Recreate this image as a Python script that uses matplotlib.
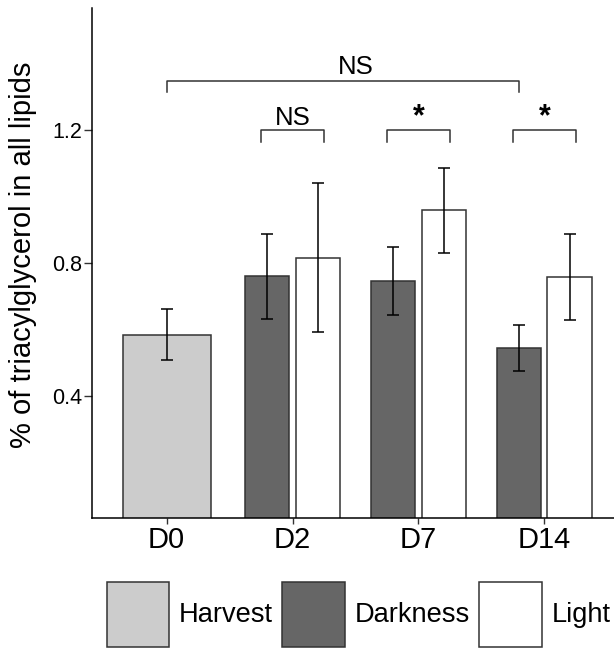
import matplotlib.pyplot as plt
from matplotlib.patches import Patch

plt.rcParams["font.family"] = ["Liberation Sans", "DejaVu Sans"]

# Data
days = ["D0", "D2", "D7", "D14"]
harvest_mean = [0.583]
harvest_err = [0.077]
dark_mean = [0.759, 0.745, 0.543]
dark_err = [0.127, 0.102, 0.070]
light_mean = [0.815, 0.958, 0.757]
light_err = [0.224, 0.128, 0.130]

# significance brackets: (x1, x2, y, label)
brackets = [
    (1.0, 3.8, 1.347, "NS"),
    (1.75, 2.25, 1.198, "NS"),
    (2.75, 3.25, 1.198, "*"),
    (3.75, 4.25, 1.198, "*"),
]

harvest_col = "#cccccc"
dark_col = "#666666"
light_col = "#ffffff"
edge = "#333333"

fig = plt.figure(figsize=(6.14, 6.48), dpi=100)
ax = fig.add_axes([92 / 614, 1 - 518 / 648, (619 - 92) / 614, (518 - 8) / 648])

x = [1, 2, 3, 4]
w = 0.35
ax.bar(x[0], harvest_mean[0], width=0.7, color=harvest_col, edgecolor=edge, linewidth=1.1, zorder=2)
ax.bar([xi - 0.2 for xi in x[1:]], dark_mean, width=w, color=dark_col, edgecolor=edge, linewidth=1.1, zorder=2)
ax.bar([xi + 0.2 for xi in x[1:]], light_mean, width=w, color=light_col, edgecolor=edge, linewidth=1.1, zorder=2)

eb = dict(fmt="none", ecolor="black", elinewidth=1.1, capsize=4.5, capthick=1.1, zorder=3)
ax.errorbar(x[0], harvest_mean, yerr=harvest_err, **eb)
ax.errorbar([xi - 0.2 for xi in x[1:]], dark_mean, yerr=dark_err, **eb)
ax.errorbar([xi + 0.2 for xi in x[1:]], light_mean, yerr=light_err, **eb)

# brackets
tip = 0.034
for x1, x2, y, lab in brackets:
    ax.plot([x1, x1, x2, x2], [y - tip, y, y, y - tip], color=edge, linewidth=1.1, clip_on=False)
    if lab == "NS":
        if x2 - x1 > 1:
            ax.text((x1 + x2) / 2 + 0.1, y + 0.02, lab, ha="center", va="baseline", fontsize=18.5)
        else:
            ax.text((x1 + x2) / 2, 1.214, lab, ha="center", va="baseline", fontsize=18.5)
    else:
        ax.text((x1 + x2) / 2, 1.214, lab, ha="center", va="baseline", fontsize=22, fontweight="bold")

ax.set_xlim(0.407, 4.593)
ax.set_ylim(0.032, 1.566)
ax.set_xticks(x)
ax.set_xticklabels(days, fontsize=21)
ax.set_yticks([0.4, 0.8, 1.2])
ax.set_yticklabels(["0.4", "0.8", "1.2"], fontsize=15.5)
ax.tick_params(axis="y", length=6, width=1, color="#333333", pad=1)
ax.tick_params(axis="x", length=4, width=1, color="#333333", pad=2)
ax.set_ylabel("% of triacylglycerol in all lipids", fontsize=21)
ax.yaxis.set_label_coords(-0.104, 0.517)

for s in ["top", "right"]:
    ax.spines[s].set_visible(False)
for s in ["left", "bottom"]:
    ax.spines[s].set_linewidth(1.1)
    ax.spines[s].set_color("black")

handles = [
    Patch(facecolor=harvest_col, edgecolor=edge, linewidth=1.1, label="Harvest"),
    Patch(facecolor=dark_col, edgecolor=edge, linewidth=1.1, label="Darkness"),
    Patch(facecolor=light_col, edgecolor=edge, linewidth=1.1, label="Light"),
]
fig.legend(handles=handles, loc="center left", bbox_to_anchor=(106.7 / 614, 1 - 614.5 / 648),
           ncol=3, frameon=False, fontsize=19.6, handlelength=2.3, handleheight=3.3,
           handletextpad=0.36, columnspacing=0.34, borderpad=0, borderaxespad=0)

fig.savefig("out.png", dpi=100)
